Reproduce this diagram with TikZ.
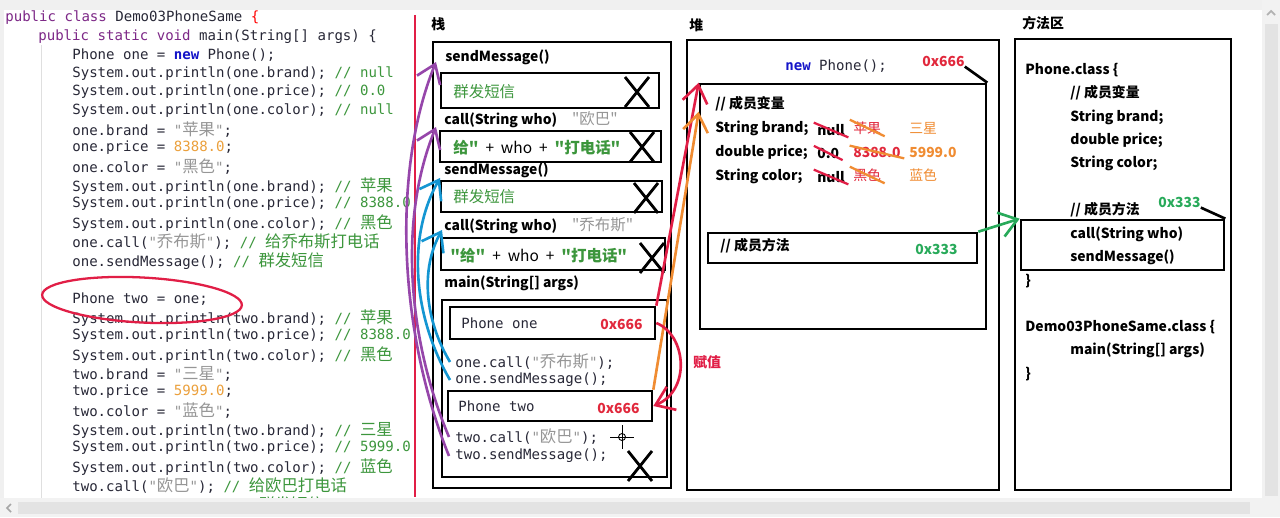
\documentclass[tikz,border=0pt]{standalone}
\usepackage{fontspec}
\setmonofont{DejaVu Sans Mono}
\newfontfamily\cjk{Noto Sans CJK SC}
\usetikzlibrary{arrows.meta,fit}
\definecolor{kwpurple}{RGB}{125,40,135}
\definecolor{newblue}{RGB}{20,20,200}
\definecolor{strgrey}{RGB}{150,150,150}
\definecolor{cmtgreen}{RGB}{60,150,60}
\definecolor{numorange}{RGB}{235,160,60}
\definecolor{codeblack}{RGB}{40,40,55}
\definecolor{addrred}{RGB}{225,40,60}
\definecolor{addrgreen}{RGB}{40,170,90}
\definecolor{penpurple}{RGB}{150,70,170}
\definecolor{penblue}{RGB}{20,150,210}
\definecolor{penred}{RGB}{225,30,70}
\definecolor{penorange}{RGB}{240,140,50}
\definecolor{pengreen}{RGB}{40,170,90}
\newcommand\zh[1]{{\cjk\fontsize{9.3}{10}\selectfont #1}}
\newcommand\kw[1]{\textcolor{kwpurple}{#1}}
\newcommand\strg[1]{\textcolor{strgrey}{#1}}
\newcommand\cmt[1]{\textcolor{cmtgreen}{#1}}
\newcommand\numc[1]{\textcolor{numorange}{#1}}
\begin{document}
\begin{tikzpicture}[x=0.02cm,y=-0.02cm,
  codeline/.style={anchor=west,inner sep=0pt,text=codeblack,font=\ttfamily\fontsize{8}{9}\selectfont},
  boldtxt/.style={anchor=west,inner sep=0pt,font=\cjk\bfseries\fontsize{7.9}{10}\selectfont},
  valtxt/.style={anchor=west,inner sep=0pt,font=\cjk\fontsize{7.9}{10}\selectfont},
  plaintxt/.style={anchor=west,inner sep=0pt,font=\cjk\fontsize{8.8}{10}\selectfont},
  boxframe/.style={draw,line width=1.5pt,inner sep=0pt},
  pen/.style={line width=1.5pt,-{Straight Barb[length=3.5mm,width=5mm]}},
  strike/.style={line width=1.3pt,shorten <=-2pt,shorten >=-2pt}]
\useasboundingbox (0,0) rectangle (1280,517);
\fill[gray!12] (0,0) rectangle (1280,517);
\fill[white] (4,10) rectangle (1262,498);
\draw[gray!25] (41,45) -- (41,498);
% code
\node[codeline] (c1) at (5,18) {\kw{public class} Demo03PhoneSame \textcolor{red}{\{}};
\node[codeline] (c2) at (38,37) {\kw{public static void} main(String[] args) \{};
\node[codeline] (c3) at (72,55) {Phone one = \textcolor{newblue}{\bfseries new} Phone();};
\node[codeline] (c4) at (72,74) {System.out.println(one.brand); \cmt{// null}};
\node[codeline] (c5) at (72,92) {System.out.println(one.price); \cmt{// 0.0}};
\node[codeline] (c6) at (72,111) {System.out.println(one.color); \cmt{// null}};
\node[codeline] (c7) at (72,130) {one.brand = \strg{"\zh{苹果}"};};
\node[codeline] (c8) at (72,148) {one.price = \numc{8388.0};};
\node[codeline] (c9) at (72,167) {one.color = \strg{"\zh{黑色}"};};
\node[codeline] (c10) at (72,186) {System.out.println(one.brand); \cmt{// \zh{苹果}}};
\node[codeline] (c11) at (72,204) {System.out.println(one.price); \cmt{// 8388.0}};
\node[codeline] (c12) at (72,223) {System.out.println(one.color); \cmt{// \zh{黑色}}};
\node[codeline] (c13) at (72,242) {one.call(\strg{"\zh{乔布斯}"}); \cmt{// \zh{给乔布斯打电话}}};
\node[codeline] (c14) at (72,261) {one.sendMessage(); \cmt{// \zh{群发短信}}};
\node[codeline] (c15) at (72,299) {Phone two = one;};
\node[codeline] (c16) at (72,318) {System.out.println(two.brand); \cmt{// \zh{苹果}}};
\node[codeline] (c17) at (72,336) {System.out.println(two.price); \cmt{// 8388.0}};
\node[codeline] (c18) at (72,355) {System.out.println(two.color); \cmt{// \zh{黑色}}};
\node[codeline] (c19) at (72,374) {two.brand = \strg{"\zh{三星}"};};
\node[codeline] (c20) at (72,392) {two.price = \numc{5999.0};};
\node[codeline] (c21) at (72,411) {two.color = \strg{"\zh{蓝色}"};};
\node[codeline] (c22) at (72,430) {System.out.println(two.brand); \cmt{// \zh{三星}}};
\node[codeline] (c23) at (72,448) {System.out.println(two.price); \cmt{// 5999.0}};
\node[codeline] (c24) at (72,467) {System.out.println(two.color); \cmt{// \zh{蓝色}}};
\node[codeline] (c25) at (72,486) {two.call(\strg{"\zh{欧巴}"}); \cmt{// \zh{给欧巴打电话}}};
\node[codeline] (c26) at (72,505) {two.sendMessage(); \cmt{// \zh{群发短信}}};
\draw[penred,line width=1.3pt,rotate around={-3:(142,300)}] (142,300) ellipse [x radius=2cm,y radius=0.45cm];
\draw[penred,line width=1.4pt] (415,15) -- (415,497);
% stack
\node[boldtxt] (stacktitle) at (431,24) {栈};
\node[boxframe,fit={(433,42) (671,488)}] (stack) {};
\node[boldtxt] (sendtwo) at (445,57) {sendMessage()};
\node[boxframe,fit={(441,73) (659,108)}] (sendtwobox) {};
\node[plaintxt,text=cmtgreen] (sendtwotxt) at (453,92) {群发短信};
\node[boldtxt] (calltwo) at (444,120) {call(String who)\hspace{0.3cm}{\mdseries\fontsize{8.8}{10}\selectfont\color{strgrey}"欧巴"}};
\node[boxframe,fit={(440,131) (661,162)}] (calltwobox) {};
\node[plaintxt] (calltwotxt) at (453,148) {\textcolor{cmtgreen}{\bfseries 给"}\ \ +\ \ who\ \ +\ \ \textcolor{cmtgreen}{\bfseries "打电话"}};
\node[boldtxt] (sendone) at (444,170) {sendMessage()};
\node[boxframe,fit={(441,181) (662,212)}] (sendonebox) {};
\node[plaintxt,text=cmtgreen] (sendonetxt) at (453,197) {群发短信};
\node[boldtxt] (callone) at (444,226) {call(String who)\hspace{0.3cm}{\mdseries\fontsize{8.8}{10}\selectfont\color{strgrey}"乔布斯"}};
\node[boxframe,fit={(441,238) (665,270)}] (callonebox) {};
\node[plaintxt] (callonetxt) at (450,256) {\textcolor{cmtgreen}{\bfseries"给"}\ \ +\ \ who\ \ +\ \ \textcolor{cmtgreen}{\bfseries "打电话"}};
\node[boldtxt] (mainlbl) at (444,283) {main(String[] args)};
\node[boxframe,fit={(442,300) (667,477)}] (mainbox) {};
\node[boxframe,fit={(450,307) (655,339)}] (onebox) {};
\node[codeline] (onevar) at (461,323) {Phone one};
\node[boldtxt,text=addrred] (oneaddr) at (600,324) {0x666};
\node[codeline] (onecall) at (455,362) {one.call(\strg{"\zh{乔布斯}"});};
\node[codeline] (onesend) at (455,380) {one.sendMessage();};
\node[boxframe,fit={(448,391) (652,421)}] (twobox) {};
\node[codeline] (twovar) at (458,406) {Phone two};
\node[boldtxt,text=addrred] (twoaddr) at (597,408) {0x666};
\node[codeline] (twocall) at (455,437) {two.call(\strg{"\zh{欧巴}"});};
\node[codeline] (twosend) at (455,456) {two.sendMessage();};
\foreach \cx/\cy in {637/92,642/147,646/198,652/258,640/466}
  \draw[line width=1.6pt] (\cx-12,\cy-15) -- (\cx+12,\cy+15) (\cx+12,\cy-15) -- (\cx-12,\cy+15);
\draw[line width=0.5pt] (610,437) -- (634,437) (622,425) -- (622,449);
\draw[line width=0.5pt] (622,437) circle [radius=0.07cm];
% heap
\node[boldtxt] (heaptitle) at (689,25) {堆};
\node[boxframe,fit={(687,40) (999,490)}] (heap) {};
\node[codeline] (newphone) at (785,66) {\textcolor{newblue}{\bfseries new} Phone();};
\node[boldtxt,text=addrred] (heapaddr) at (922,61) {0x666};
\node[boxframe,fit={(700,84) (986,329)}] (obj) {};
\draw[line width=1.5pt] (heapaddr.south east) -- (obj.north east);
\node[boldtxt] (varcmt) at (715,104) {// 成员变量};
\node[boldtxt] (brandvar) at (715,128) {String brand;};
\node[boldtxt] (pricevar) at (715,152) {double price;};
\node[boldtxt] (colorvar) at (715,176) {String color;};
\node[boldtxt] (brand0) at (817,130) {null};
\node[boldtxt] (price0) at (817,153) {0.0};
\node[boldtxt] (color0) at (817,177) {null};
\node[valtxt,text=addrred] (brand1) at (853,128) {苹果};
\node[boldtxt,text=addrred] (price1) at (853,152) {8388.0};
\node[valtxt,text=addrred] (color1) at (853,175) {黑色};
\node[valtxt,text=penorange] (brand2) at (909,128) {三星};
\node[boldtxt,text=penorange] (price2) at (909,152) {5999.0};
\node[valtxt,text=penorange] (color2) at (909,175) {蓝色};
\foreach \v in {brand0,price0,color0}
  \draw[strike,penred] (\v.north west) -- (\v.south east);
\foreach \v in {brand1,price1,color1}
  \draw[strike,penorange] (\v.north west) -- (\v.south east);
\node[boxframe,fit={(708,233) (977,263)}] (methref) {};
\node[boldtxt] (methcmt) at (720,246) {// 成员方法};
\node[boldtxt,text=addrgreen] (heapmaddr) at (915,249) {0x333};
% method area
\node[boldtxt] (areatitle) at (1022,23) {方法区};
\node[boxframe,fit={(1015,39) (1231,490)}] (area) {};
\node[boldtxt] (phoneclass) at (1025,70) {Phone.class \{};
\node[boldtxt] (areavarcmt) at (1070,93) {// 成员变量};
\node[boldtxt] (areabrand) at (1070,117) {String brand;};
\node[boldtxt] (areaprice) at (1070,140) {double price;};
\node[boldtxt] (areacolor) at (1070,163) {String color;};
\node[boldtxt] (areamethcmt) at (1070,210) {// 成员方法};
\node[boldtxt,text=addrgreen] (areaaddr) at (1158,202) {0x333};
\node[boxframe,fit={(1021,220) (1224,270)}] (methods) {};
\draw[line width=1.5pt] (areaaddr.south east) -- (methods.north east);
\node[boldtxt] (areacall) at (1070,234) {call(String who)};
\node[boldtxt] (areasend) at (1070,257) {sendMessage()};
\node[boldtxt] (phoneend) at (1025,281) {\}};
\node[boldtxt] (democlass) at (1025,327) {Demo03PhoneSame.class \{};
\node[boldtxt] (areamain) at (1070,350) {main(String[] args)};
\node[boldtxt] (demoend) at (1025,374) {\}};
% pen strokes
\draw[pen,penpurple] ([xshift=-0.12cm]twosend.west) .. controls (398,330) and (392,170) .. ([xshift=-0.18cm,yshift=-0.1cm]sendtwo.west);
\draw[pen,penpurple] ([xshift=-0.12cm]twocall.west) .. controls (408,340) and (398,220) .. ([xshift=-0.16cm,yshift=-0.14cm]calltwo.west);
\draw[pen,penblue] ([xshift=-0.1cm]onesend.west) .. controls (415,320) and (405,240) .. ([xshift=-0.08cm,yshift=-0.16cm]sendone.west);
\draw[pen,penblue] ([xshift=-0.1cm]onecall.west) .. controls (425,320) and (420,270) .. ([xshift=-0.04cm,yshift=-0.08cm]callone.west);
\draw[pen,penred] (onebox.north east) -- (obj.north west);
\draw[pen,penorange] (twobox.north east) -- ([yshift=-0.58cm]obj.north west);
\draw[pen,penred] (onebox.east) .. controls +(30,12) and +(38,-16) .. (twobox.east);
\node[boldtxt,text=penred] (assignlbl) at (693,362) {赋值};
\draw[pen,pengreen] (methref.north east) -- (methods.north west);
% scroll bars
\fill[gray!10] (0,498) rectangle (1280,517);
\fill[gray!22] (18,502) rectangle (1250,514);
\draw[gray!70,line width=1pt] (11,504) -- (7,508) -- (11,512);
\fill[gray!10] (1262,0) rectangle (1280,498);
\fill[gray!22] (1265,24) rectangle (1278,496);
\draw[gray!60,line width=1pt] (1267,15) -- (1271,11) -- (1275,15);
\end{tikzpicture}
\end{document}
